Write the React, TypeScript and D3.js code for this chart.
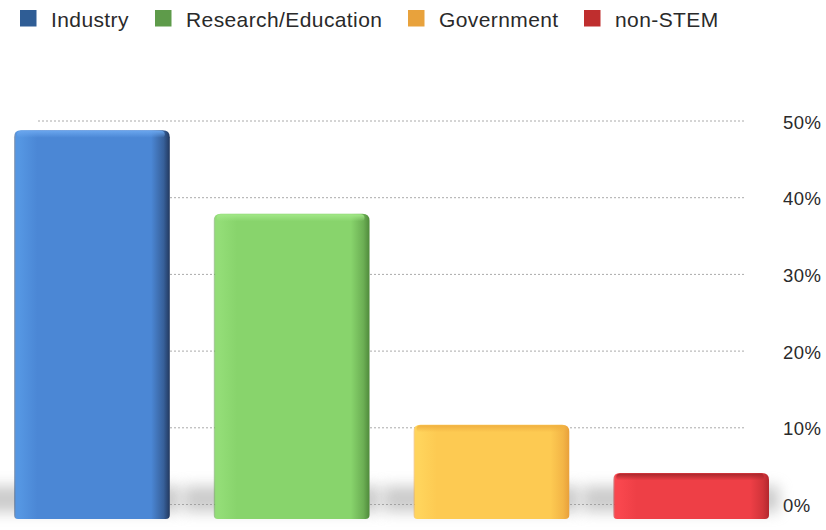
import React from "react";
import * as d3 from "d3";

const categories = ["Industry", "Research/Education", "Government", "non-STEM"];
const values = [48.8, 37.9, 10.4, 4.1];
const tickValues = [0, 10, 20, 30, 40, 50];
const tickLabels = ["0%", "10%", "20%", "30%", "40%", "50%"];
const legendColors = ["#2f5d95", "#5e9b4a", "#e8a23c", "#bf2e2e"];
const barMain = ["#4b87d5", "#88d46c", "#fdca52", "#ee3f46"];
const barLight = ["#5596e2", "#93dd77", "#ffd45c", "#f9474e"];
const barDark = ["#22385e", "#4f8a3b", "#e9a03a", "#b3282e"];
const barTop = ["#6aa6ee", "#a2e888", "#f0b040", "#a8262b"];

const W = 826;
const H = 530;

export default function App() {
  const x = d3.scaleBand<string>().domain(categories).range([14, 769]).paddingInner(0.22).paddingOuter(0);
  const y = d3.scaleLinear().domain([0, 50]).range([504.5, 121]);
  const base = y(0) + 14.5;
  const legendX = [20, 155, 408, 584];

  return (
    <div style={{ position: "fixed", left: 0, top: 0, width: W, height: H, overflow: "hidden", background: "#fff" }}>
      <svg width={W} height={H} style={{ display: "block", fontFamily: "'Liberation Sans', Arial, sans-serif" }}>
        <defs>
          <filter id="blur" x="-20%" y="-100%" width="140%" height="300%">
            <feGaussianBlur stdDeviation="7" />
          </filter>
          {categories.map((c, i) => (
            <linearGradient key={c} id={`hg${i}`} x1="0" x2="1" y1="0" y2="0">
              <stop offset="0%" stopColor={barDark[i]} stopOpacity={0.35} />
              <stop offset="1.2%" stopColor={barLight[i]} />
              <stop offset="4%" stopColor={barLight[i]} />
              <stop offset="15%" stopColor={barMain[i]} />
              <stop offset="88%" stopColor={barMain[i]} />
              <stop offset="96%" stopColor={d3.interpolateRgb(barMain[i], barDark[i])(0.5)} />
              <stop offset="100%" stopColor={barDark[i]} />
            </linearGradient>
          ))}
          {categories.map((c, i) => (
            <linearGradient key={c + "v"} id={`vg${i}`} x1="0" x2="0" y1="0" y2="1">
              <stop offset="0" stopColor={barTop[i]} stopOpacity={1} />
              <stop offset="1" stopColor={barTop[i]} stopOpacity={0} />
            </linearGradient>
          ))}
        </defs>

        {/* legend */}
        {categories.map((c, i) => (
          <g key={c}>
            <rect x={legendX[i]} y={10} width={16.5} height={16.5} fill={legendColors[i]} />
            <text x={legendX[i] + 31} y={26.5} fontSize={21} letterSpacing={0.4} fill="#2a2a2a">{c}</text>
          </g>
        ))}

        {/* gridlines */}
        {tickValues.map((t, i) => (
          <g key={t}>
            <line x1={38} x2={745} y1={y(t)} y2={y(t)} stroke="#aaa" strokeWidth={1} strokeDasharray="2,2" />
            <text x={783} y={y(t) + 7.5} fontSize={18.5} letterSpacing={0.4} fill="#2a2a2a">{tickLabels[i]}</text>
          </g>
        ))}

        {/* floor shadows */}
        {categories.map((c, i) => (
          <rect key={c + "s"} x={(x(c) as number) - 30} y={486} width={x.bandwidth() + 40} height={26}
            fill="#999" opacity={0.5} filter="url(#blur)" />
        ))}

        {/* bars */}
        {categories.map((c, i) => {
          const x0 = x(c) as number;
          const bw = x.bandwidth();
          const top = y(values[i]);
          const h = base - top;
          const r = 7;
          const rb = 4;
          const path = `M${x0},${top + r} Q${x0},${top} ${x0 + r},${top} L${x0 + bw - r},${top} Q${x0 + bw},${top} ${x0 + bw},${top + r} L${x0 + bw},${base - rb} Q${x0 + bw},${base} ${x0 + bw - rb},${base} L${x0 + rb},${base} Q${x0},${base} ${x0},${base - rb} Z`;
          return (
            <g key={c + "b"}>
              <path d={path} fill={`url(#hg${i})`} />
              <rect x={x0 + 3} y={top + 0.5} width={bw - 8} height={Math.min(7, h)} fill={`url(#vg${i})`} rx={4} />
            </g>
          );
        })}
      </svg>
    </div>
  );
}
